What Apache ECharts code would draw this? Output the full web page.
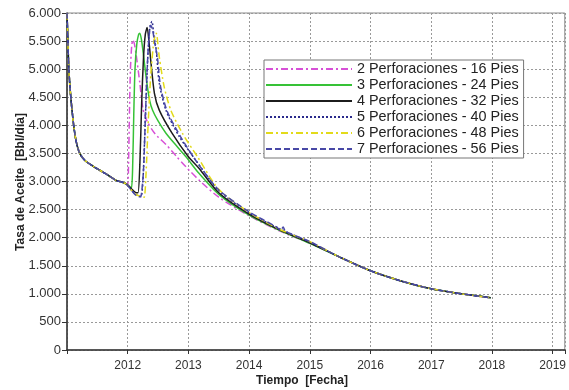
<!DOCTYPE html>
<html>
<head>
<meta charset="utf-8">
<script src="https://cdn.jsdelivr.net/npm/echarts@6/dist/echarts.min.js"></script>
<style>
  html, body { margin: 0; padding: 0; background: #fff; }
  #chart { width: 569px; height: 390px; }
</style>
</head>
<body>
<div id="chart"></div>
<script>
// Early decline shared by every completion scenario (years, bbl/day)
const baseYears = [2011.000, 2011.012, 2011.030, 2011.055, 2011.080, 2011.110, 2011.150, 2011.210, 2011.300, 2011.420, 2011.540, 2011.680, 2011.810, 2011.900, 2011.970];
const baseRate  = [6000, 5600, 5000, 4600, 4300, 4000, 3720, 3500, 3370, 3280, 3200, 3110, 3020, 2990, 2960];

// Late decline shared by every scenario
const tailYears = [2015.50, 2016.00, 2016.50, 2017.00, 2017.50, 2017.98];
const tailRate  = [1650, 1410, 1230, 1090, 1000, 930];

// Stimulation response of each scenario
const yrs2  = [2012.000, 2012.015, 2012.030, 2012.045, 2012.065, 2012.085, 2012.110, 2012.140, 2012.200, 2012.250, 2012.320, 2012.450, 2012.630, 2012.800, 2012.960, 2013.170, 2013.500, 2014.000, 2014.500, 2015.000];
const rate2 = [2950, 3400, 4300, 5000, 5400, 5520, 5450, 5250, 4750, 4300, 4070, 3850, 3660, 3450, 3260, 3030, 2720, 2390, 2120, 1900];

const yrs3  = [2012.020, 2012.060, 2012.080, 2012.100, 2012.120, 2012.150, 2012.180, 2012.200, 2012.230, 2012.260, 2012.310, 2012.360, 2012.410, 2012.500, 2012.630, 2012.800, 2012.960, 2013.170, 2013.500, 2014.000, 2014.500, 2015.000];
const rate3 = [2920, 2880, 3200, 4200, 5000, 5450, 5620, 5640, 5500, 5250, 4800, 4450, 4270, 4080, 3860, 3640, 3440, 3150, 2770, 2400, 2130, 1900];

const yrs4  = [2012.020, 2012.080, 2012.140, 2012.170, 2012.200, 2012.230, 2012.260, 2012.290, 2012.320, 2012.350, 2012.380, 2012.440, 2012.520, 2012.730, 2013.000, 2013.170, 2013.500, 2014.000, 2014.500, 2015.000];
const rate4 = [2920, 2850, 2800, 2800, 3300, 4400, 5200, 5620, 5740, 5500, 5150, 4570, 4270, 3860, 3440, 3240, 2800, 2420, 2140, 1910];

const yrs5  = [2012.020, 2012.100, 2012.180, 2012.220, 2012.250, 2012.280, 2012.310, 2012.340, 2012.370, 2012.400, 2012.430, 2012.470, 2012.520, 2012.630, 2012.850, 2013.120, 2013.500, 2014.000, 2014.500, 2015.000];
const rate5 = [2900, 2800, 2740, 2730, 3000, 3800, 4700, 5400, 5780, 5850, 5600, 5340, 4750, 4270, 3800, 3380, 2840, 2440, 2160, 1920];

const yrs6  = [2012.020, 2012.120, 2012.220, 2012.270, 2012.300, 2012.340, 2012.380, 2012.420, 2012.450, 2012.470, 2012.520, 2012.600, 2012.710, 2012.900, 2013.150, 2013.500, 2014.000, 2014.500, 2014.860, 2015.000];
const rate6 = [2900, 2780, 2730, 2720, 3100, 4100, 4900, 5400, 5600, 5640, 5220, 4690, 4270, 3860, 3440, 2860, 2450, 2150, 1990, 1930];

const yrs7  = [2012.020, 2012.100, 2012.180, 2012.220, 2012.260, 2012.290, 2012.320, 2012.350, 2012.380, 2012.410, 2012.440, 2012.490, 2012.540, 2012.650, 2012.870, 2013.130, 2013.500, 2014.000, 2014.450, 2014.520, 2014.560, 2014.600, 2015.000];
const rate7 = [2900, 2790, 2730, 2740, 3200, 4100, 5000, 5550, 5780, 5700, 5500, 5200, 4700, 4250, 3800, 3360, 2850, 2460, 2190, 2130, 2190, 2110, 1930];

const seriesNames = [
  '2 Perforaciones - 16 Pies',
  '3 Perforaciones - 24 Pies',
  '4 Perforaciones - 32 Pies',
  '5 Perforaciones - 40 Pies',
  '6 Perforaciones - 48 Pies',
  '7 Perforaciones - 56 Pies'
];
const yearTicks = [2012, 2013, 2014, 2015, 2016, 2017, 2018, 2019];

function pairs(years, rates) {
  const ys = baseYears.concat(years, tailYears);
  const rs = baseRate.concat(rates, tailRate);
  return ys.map((t, i) => [t, rs[i]]);
}

const styles = [
  { color: '#d750d7', type: [7, 3, 2, 3] },
  { color: '#36c236', type: 'solid' },
  { color: '#1c1c1c', type: 'solid' },
  { color: '#2a2a8c', type: [2, 2] },
  { color: '#e2da1a', type: [7, 3, 2, 3] },
  { color: '#4848a6', type: [6, 3] }
];
const segments = [[yrs2, rate2], [yrs3, rate3], [yrs4, rate4], [yrs5, rate5], [yrs6, rate6], [yrs7, rate7]];

function thousands(v) {
  if (v < 1000) return String(v);
  return Math.floor(v / 1000) + '.' + String(v % 1000).padStart(3, '0');
}

const chart = echarts.init(document.getElementById('chart'), null, { renderer: 'canvas' });
chart.setOption({
  animation: false,
  backgroundColor: '#fff',
  textStyle: { fontFamily: 'Liberation Sans, Arial, sans-serif' },
  grid: {
    left: 67, top: 13, right: -1, bottom: 40,
    show: true, borderColor: '#8a8a8a', borderWidth: 1, backgroundColor: 'transparent'
  },
  legend: {
    orient: 'vertical',
    left: 264, top: 60,
    padding: [1, 5, 1, 1],
    itemGap: 0,
    itemWidth: 86, itemHeight: 14,
    backgroundColor: '#fff',
    borderColor: '#777', borderWidth: 1,
    itemStyle: { opacity: 0 },
    textStyle: { fontSize: 14.4, color: '#222', lineHeight: 16, fontFamily: 'Liberation Sans, Arial, sans-serif' },
    data: seriesNames
  },
  xAxis: {
    type: 'value',
    min: 2011, max: 2019.2, interval: 1,
    axisLine: { show: true, lineStyle: { color: '#333', width: 1.5 } },
    axisTick: { show: true, length: 4, lineStyle: { color: '#333' } },
    axisLabel: {
      color: '#333', fontSize: 12, margin: 10,
      formatter: v => (yearTicks.indexOf(v) >= 0 ? String(v) : '')
    },
    splitLine: { show: true, lineStyle: { color: '#999', type: [2, 2], width: 1 } }
  },
  yAxis: {
    type: 'value',
    min: 0, max: 6000, interval: 500,
    axisLine: { show: true, lineStyle: { color: '#333', width: 1.5 } },
    axisTick: { show: true, length: 5, lineStyle: { color: '#333' } },
    axisLabel: { color: '#333', fontSize: 13, margin: 6, formatter: thousands },
    splitLine: { show: true, lineStyle: { color: '#999', type: [2, 2], width: 1 } }
  },
  graphic: [
    {
      type: 'text', x: 21, y: 182, rotation: Math.PI / 2,
      style: { text: 'Tasa de Aceite  [Bbl/día]', font: 'bold 12px Liberation Sans, Arial, sans-serif', fill: '#222', align: 'center', verticalAlign: 'middle' }
    },
    {
      type: 'text', x: 302, y: 381,
      style: { text: 'Tiempo  [Fecha]', font: 'bold 12px Liberation Sans, Arial, sans-serif', fill: '#222', align: 'center', verticalAlign: 'middle' }
    }
  ],
  series: segments.map((s, i) => ({
    name: seriesNames[i],
    type: 'line',
    showSymbol: false,
    symbol: 'none',
    smooth: 0.25,
    data: pairs(s[0], s[1]),
    lineStyle: { color: styles[i].color, type: styles[i].type, width: 1.5 },
    itemStyle: { color: styles[i].color }
  }))
});
</script>
</body>
</html>
